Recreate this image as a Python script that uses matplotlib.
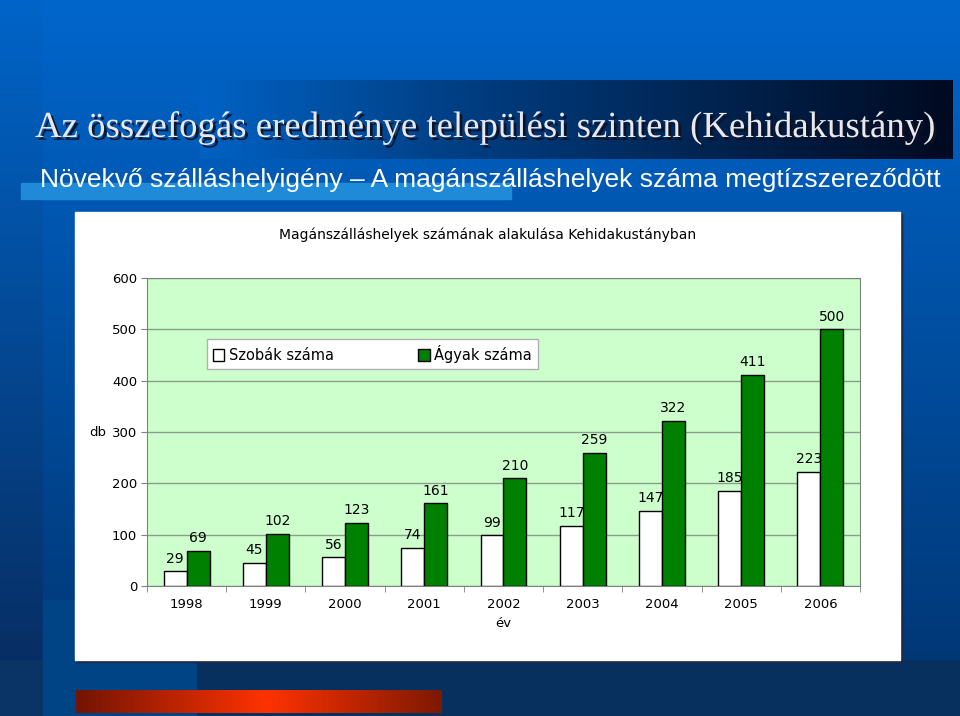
import numpy as np
import matplotlib
matplotlib.use("Agg")
import matplotlib.pyplot as plt
import matplotlib.patheffects as pe
from matplotlib.patches import Rectangle

# data
years = ['1998', '1999', '2000', '2001', '2002', '2003', '2004', '2005', '2006']
rooms = [29, 45, 56, 74, 99, 117, 147, 185, 223]
beds = [69, 102, 123, 161, 210, 259, 322, 411, 500]
y_ticks = [0, 100, 200, 300, 400, 500, 600]

W, H = 960, 716
fig = plt.figure(figsize=(9.6, 7.16), dpi=100)

# slide background (pixel coordinates)
bg = fig.add_axes([0, 0, 1, 1])
bg.set_xlim(0, W)
bg.set_ylim(H, 0)
bg.axis('off')


def vgrad(c1, c2, n=256):
    t = np.linspace(0, 1, n)[:, None, None]
    return (np.array(c1)[None, None, :] * (1 - t) + np.array(c2)[None, None, :] * t) / 255.0


def hgrad(stops, n=512):
    xs = np.linspace(0, 1, n)
    pos = [s[0] for s in stops]
    cols = np.array([s[1] for s in stops], dtype=float)
    arr = np.stack([np.interp(xs, pos, cols[:, k]) for k in range(3)], axis=-1)
    return arr[None, :, :] / 255.0


bg.imshow(vgrad((0, 102, 204), (0, 52, 112)), extent=(0, W, H, 0), aspect='auto', zorder=0)
bg.imshow(vgrad((0, 100, 200), (8, 42, 92)), extent=(0, 43, H, 0), aspect='auto', zorder=1)
# title band
bg.imshow(hgrad([(0, (0, 98, 196)), (0.35, (0, 62, 130)), (1, (0, 10, 32))]),
          extent=(200, 953, 159, 80), aspect='auto', zorder=1)
# light strip under subtitle
bg.add_patch(Rectangle((21, 183), 490, 16, color='#1f8ad8', zorder=1))
# bottom band
bg.add_patch(Rectangle((0, 660), W, H - 660, color='#07305f', zorder=1))
bg.add_patch(Rectangle((0, 660), 43, H - 660, color='#0a3366', zorder=1))
bg.add_patch(Rectangle((43, 600), 153, H - 600, color='#004486', zorder=1))
bg.imshow(hgrad([(0, (115, 20, 5)), (0.52, (255, 50, 0)), (1, (125, 25, 0))]),
          extent=(76, 442, 713, 690), aspect='auto', zorder=2)
# white chart panel with shadow
bg.add_patch(Rectangle((77, 214), 825, 448, color='#1a2a40', zorder=3))
bg.add_patch(Rectangle((75, 212), 825, 448, color='white', zorder=4))

bg.text(35, 137, 'Az összefogás eredménye települési szinten (Kehidakustány)',
        family='Liberation Serif', fontsize=26.5, color='#e8e8ef', ha='left', va='baseline', zorder=5,
        path_effects=[pe.withSimplePatchShadow(offset=(2, -2), shadow_rgbFace='#101020', alpha=0.9)])
bg.text(40, 187, 'Növekvő szálláshelyigény – A magánszálláshelyek száma megtízszereződött',
        family='Liberation Sans', fontsize=19, color='white', ha='left', va='baseline', zorder=5)
bg.text(488, 235, 'Magánszálláshelyek számának alakulása Kehidakustányban',
        family='DejaVu Sans', fontsize=10, color='black', ha='center', va='center', zorder=5)

# chart
ax = fig.add_axes([147 / W, 1 - 586 / H, 713 / W, 308 / H], zorder=2)
ax.set_facecolor('#ccffcc')
x = np.arange(len(years))
w = 0.29
ax.bar(x - w / 2, rooms, w, color='white', edgecolor='black', linewidth=1, label='Szobák száma', zorder=3)
ax.bar(x + w / 2, beds, w, color='#008000', edgecolor='black', linewidth=1, label='Ágyak száma', zorder=3)

for xi, v in zip(x - w / 2, rooms):
    ax.annotate(str(v), (xi, v), xytext=(0, 4), textcoords='offset points',
                ha='center', va='bottom', fontsize=10, zorder=4)
for xi, v in zip(x + w / 2, beds):
    ax.annotate(str(v), (xi, v), xytext=(0, 4), textcoords='offset points',
                ha='center', va='bottom', fontsize=10, zorder=4)

ax.set_xlim(-0.5, len(years) - 0.5)
ax.set_ylim(0, 600)
ax.set_yticks(y_ticks)
ax.tick_params(axis='y', labelsize=9.5, length=4, color='#808080', pad=3)
ax.set_xticks(x)
ax.set_xticklabels(years)
ax.tick_params(axis='x', which='major', labelsize=9.5, length=0, pad=9)
ax.set_xticks(np.arange(-0.5, len(years)), minor=True)
ax.tick_params(axis='x', which='minor', length=4, color='#808080')
ax.grid(axis='y', color='#8c9c8c', linewidth=1, zorder=1)
ax.set_axisbelow(True)
for s in ax.spines.values():
    s.set_color('#808080')

ax.set_ylabel('db', rotation=0, fontsize=9.5, ha='center', va='center')
ax.yaxis.set_label_coords(-0.069, 0.5)
ax.set_xlabel('év', fontsize=9.5)
ax.xaxis.set_label_coords(0.5, -0.10)

ax.legend(loc='center', bbox_to_anchor=(0.084, 0.685, 0.464, 0.136), mode='expand', ncol=2,
          fontsize=10.5, frameon=True, fancybox=False, edgecolor='#b0b0b0', framealpha=1,
          handlelength=0.8, handleheight=0.8, handletextpad=0.3, borderaxespad=0)

fig.savefig('out.png', dpi=100)
